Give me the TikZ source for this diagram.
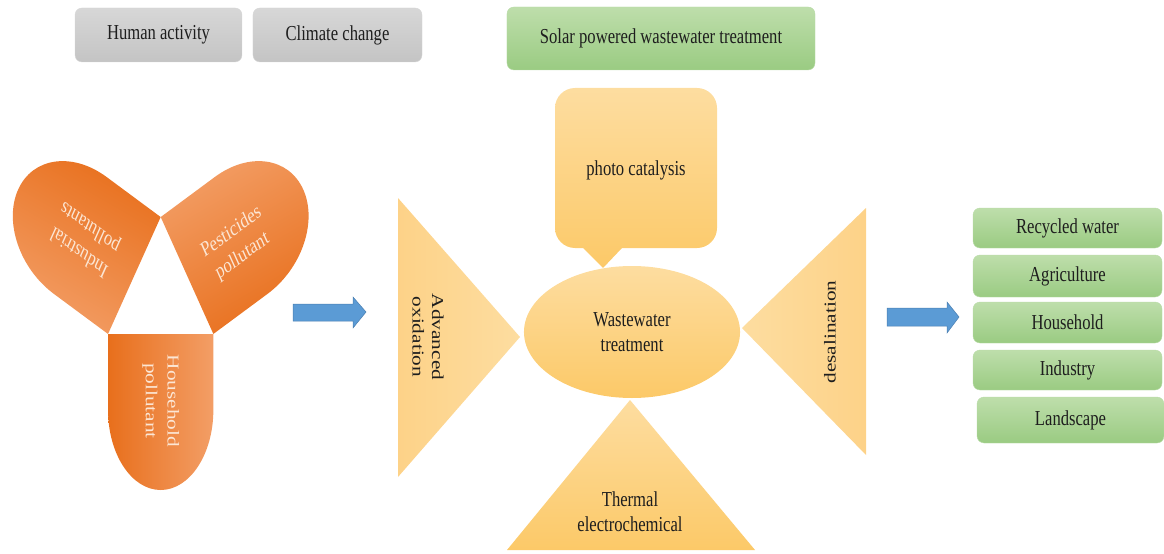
\documentclass[tikz,border=0pt]{standalone}
\usepackage{fontspec}
\setmainfont{Liberation Serif}
\usetikzlibrary{shapes.geometric,calc}
\definecolor{grayT}{HTML}{D7D7D7}
\definecolor{grayB}{HTML}{C4C4C4}
\definecolor{greenT}{HTML}{BEDEAB}
\definecolor{greenB}{HTML}{9ACB82}
\definecolor{yL}{HTML}{FDDDA0}
\definecolor{yD}{HTML}{FCC968}
\definecolor{yM}{HTML}{FDD288}
\definecolor{oL}{HTML}{F39E66}
\definecolor{oD}{HTML}{E86F1C}
\definecolor{blueF}{HTML}{5B9BD5}
\definecolor{blueD}{HTML}{4A7EB0}
\definecolor{txt}{HTML}{1E1E1E}
\definecolor{ltxt}{HTML}{FCE6D4}
\begin{document}
\begin{tikzpicture}[x=1.282051pt, y=-1pt, xscale=0.78, transform shape,
  every node/.style={font=\fontsize{21.3}{25}\selectfont, text=txt, align=center, inner sep=0pt},
  graybox/.style={rounded corners=7pt, top color=grayT, bottom color=grayB, draw=grayB!70!white, line width=0.4pt, minimum height=54pt},
  greenbox/.style={rounded corners=7pt, top color=greenT, bottom color=greenB, draw=greenB!70!white, line width=0.4pt},
  lobetext/.style={text=ltxt, font=\fontsize{21.3}{28}\selectfont},
  bluearrow/.style={fill=blueF, draw=blueD, line width=0.5pt}]
\useasboundingbox (0,0) rectangle (1164,553);

% top boxes
\node[graybox, minimum width=214.1pt] (human) at (158.5,35) {Human activity};
\node[graybox, minimum width=216.7pt] (climate) at (337.5,35) {Climate change};
\node[greenbox, minimum width=394.9pt, minimum height=63pt] (solar) at (661,38.5) {Solar powered wastewater treatment};

% lobes
\begin{scope}[shift={(160.7,295)}, rotate=-90]
  \path[top color=oL, bottom color=oD, shading angle=-90] (39pt,-67.5pt) -- (115pt,-67.5pt) arc[start angle=-90,end angle=90,x radius=80pt,y radius=67.5pt] -- (39pt,67.5pt) -- cycle;
  \node[lobetext] (household) at (106pt,0pt) {Household\\pollutant};
\end{scope}
\begin{scope}[shift={(160.7,295)}, rotate=30]
  \path[top color=oL, bottom color=oD, shading angle=30] (39pt,-67.5pt) -- (119pt,-67.5pt) arc[start angle=-90,end angle=90,x radius=92pt,y radius=67.5pt] -- (39pt,67.5pt) -- cycle;
  \node[lobetext] (pesticides) at (110pt,-5pt) {Pesticides\\pollutant};
\end{scope}
\begin{scope}[shift={(160.7,295)}, rotate=150]
  \path[top color=oL, bottom color=oD, shading angle=150] (39pt,-67.5pt) -- (119pt,-67.5pt) arc[start angle=-90,end angle=90,x radius=92pt,y radius=67.5pt] -- (39pt,67.5pt) -- cycle;
  \node[lobetext] (industrial) at (112pt,0pt) {Industrial\\pollutants};
\end{scope}

% blue arrows
\coordinate (a1s) at (293,312);
\coordinate (a1t) at (366,312);
\path[bluearrow] (a1s) ++(0,-8) -- ++(60,0) -- ++(0,-7) -- (a1t) -- ++(-13,16) -- ++(0,-7) -- ++(-60,0) -- cycle;
\coordinate (a2s) at (887,317);
\coordinate (a2t) at (959,317);
\path[bluearrow] (a2s) ++(0,-9) -- ++(60,0) -- ++(0,-6) -- (a2t) -- ++(-12,16) -- ++(0,-7) -- ++(-60,0) -- cycle;

% central shapes
\path[top color=yL, bottom color=yD] (583,248) [rounded corners=20pt] -- (555,248) -- (555,88) -- (717,88) -- (717,248) [sharp corners] -- (622,248) -- (603,268) -- cycle;
\path[left color=yM, right color=yL] (398,198) -- (520,337) -- (398,477) -- cycle;
\path[left color=yL, right color=yM] (866,208) -- (742,328) -- (866,455) -- cycle;
\path[top color=yL, bottom color=yD] (630,400) -- (755,550) -- (507,550) -- cycle;
\node[ellipse, minimum width=277pt, minimum height=132pt, top color=yL, bottom color=yD] (wwt) at (632,332) {Wastewater\\treatment};

\node (photo) at (636,170) {photo catalysis};
\node[rotate=-90] (aox) at (428,337) {Advanced\\oxidation};
\node[rotate=90] (desal) at (830,332) {desalination};
\node (thermal) at (630,512) {Thermal\\electrochemical};

% right boxes
\node[greenbox, minimum width=242.3pt, minimum height=40pt] (recycled) at (1067.5,228) {Recycled water};
\node[greenbox, minimum width=242.3pt, minimum height=42pt] (agri) at (1067.5,276) {Agriculture};
\node[greenbox, minimum width=242.3pt, minimum height=41pt] (house) at (1067.5,322.5) {Household};
\node[greenbox, minimum width=242.3pt, minimum height=40pt] (industry) at (1067.5,370) {Industry};
\node[greenbox, minimum width=239.7pt, minimum height=46pt] (landscape) at (1070.5,420) {Landscape};
\end{tikzpicture}
\end{document}
